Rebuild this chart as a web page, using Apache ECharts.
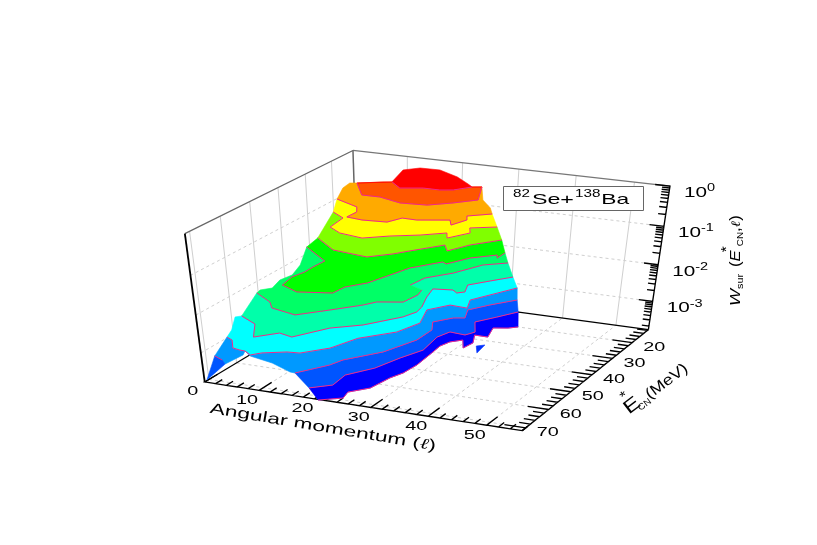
<!DOCTYPE html><html><head><meta charset="utf-8"><style>html,body{margin:0;background:#fff}#c{width:817px;height:545px}</style><script src="https://cdn.jsdelivr.net/npm/echarts@6/dist/echarts.min.js"></script></head><body><div id="c"></div>
<script>
// ---- values: each contour is a list of [angular momentum, E*] at one log10(W) level ----
const logWLevels=[-3.8,-3.5,-3.2,-2.9,-2.6,-2.3,-2,-1.7,-1.4,-1.1,-0.8,-0.5,-0.2];
const contour0=[[20.8,71.8],[24.0,69.1],[23.4,66.0],[25.8,62.5],[26.5,56.2],[27.4,52.8],[27.7,47.8],[27.3,40.6],[27.0,36.3],[27.6,33.4],[29.2,31.4],[31.0,35.6],[31.4,32.2],[29.9,27.8],[32.4,27.9],[31.2,22.5],[33.6,21.4],[34.9,20.0]];
const contour1=[[19.3,71.8],[22.1,68.8],[21.7,63.2],[24.5,57.7],[26.0,50.9],[27.7,45.2],[26.9,37.4],[27.7,33.7],[30.7,34.2],[31.6,31.9],[29.3,26.4],[31.6,22.0],[33.8,17.5]];
const contour2=[[16.5,70.9],[19.7,64.7],[20.5,61.3],[24.6,54.5],[26.9,46.0],[26.9,39.7],[25.2,35.4],[27.4,31.7],[29.2,30.8],[27.8,26.2],[30.1,21.7],[33.2,16.8]];
const contour2Left=[[0.8,68.5],[2.9,69.9],[4.3,71.6],[4.7,66.0],[4.0,63.9],[6.0,66.0],[10.9,67.8],[15.6,70.8]];
const contour3=[[0.8,63.7],[2.3,64.8],[4.4,68.6],[5.9,69.1],[6.9,69.2],[8.6,70.7],[9.8,68.9],[13.2,66.7],[15.3,66.3],[18.5,61.8],[20.3,55.0],[24.6,49.0],[26.0,42.7],[24.0,35.2],[26.4,30.8],[29.7,31.2],[28.3,26.5],[32.8,16.1]];
const contour4=[[0.6,57.6],[4.6,60.7],[7.6,67.2],[10.4,63.4],[13.1,64.5],[16.5,57.4],[20.6,53.5],[24.6,46.5],[25.5,42.9],[25.1,39.9],[23.5,34.1],[22.5,29.2],[25.8,28.3],[27.1,29.7],[28.1,28.5],[26.9,24.4],[29.4,20.4],[32.0,16.4]];
const contour5=[[-0.1,50.3],[4.2,54.1],[6.0,57.0],[11.1,58.9],[15.0,53.9],[18.6,49.0],[19.9,46.4],[23.8,44.6],[24.3,39.7],[23.7,36.7],[20.8,34.9],[21.3,29.9],[24.4,25.0],[27.0,18.1],[30.4,15.0]];
const contour6=[[-1.9,27.3],[4.7,34.0],[4.5,38.2],[4.6,41.6],[4.0,45.2],[4.7,50.2],[8.6,52.8],[14.1,50.8],[14.4,46.8],[16.7,43.0],[18.1,37.0],[19.3,31.7],[22.8,25.8],[23.8,26.7],[26.0,21.5],[29.4,17.7],[30.1,19.5],[30.1,15.9]];
const contour7=[[0.5,27.7],[6.1,33.5],[13.0,35.0],[16.1,31.4],[17.9,28.4],[21.7,22.4],[23.5,25.7],[25.5,20.5],[29.1,15.2]];
const contour8=[[-1.2,17.7],[2.0,20.6],[2.6,27.0],[5.7,29.8],[10.4,31.1],[14.0,27.9],[18.3,25.1],[21.8,21.9],[23.1,24.9],[25.3,20.2],[24.0,17.2],[27.9,14.6]];
const contour9=[[-1.0,16.4],[4.3,19.8],[5.7,22.9],[5.6,26.6],[8.7,27.3],[13.0,26.7],[14.2,23.2],[16.9,23.3],[21.9,20.9],[23.3,23.8],[24.4,19.6],[23.4,17.2],[26.7,14.1]];
const contour10=[[0.8,12.0],[5.0,19.2],[8.3,19.1],[13.0,21.3],[17.6,20.6],[20.9,17.4],[23.9,13.7],[21.1,5.2]];
const contour11=[[4.3,19.4],[7.9,16.9],[9.3,16.2],[12.1,19.4],[15.6,17.7],[18.6,17.7],[20.6,16.7],[22.6,13.5],[24.1,12.7]];
const contour12=[[12.6,23.7],[10.9,15.3],[12.9,12.8],[16.4,12.6],[20.9,15.8],[24.3,19.4],[25.7,21.0]];
const edgeLeft3=[[-3.2,53.0],[-0.3,59.9]];
const edgeLeft5=[[-1.1,31.8],[0.4,38.0],[-0.1,41.7],[0.9,46.6],[-0.4,48.5]];
const edgeLeft9=[[-3.8,5.2],[-3.4,8.9]];
const edgeRight9=[[24.9,10.5],[21.7,6.0]];
const tipBand1=[[5.5,80.2],[0.8,68.5],[2.9,69.9],[4.3,71.6]];
const islandBand0=[[32.6,33.6],[33.7,32.4],[34.2,37.2]];
const lTicks=[0,10,20,30,40,50];
const eTicks=[20,30,40,50,60,70];
const zTicks=[0,-1,-2,-3];
const bandColors=['#0000ff','#0055ff','#0099ff','#00ffff','#00ffaa','#00ff66','#00ff00','#80ff00','#ffff00','#ffaa00','#ff5500','#ff0000'];
const systemName=['82','Se+','138','Ba'];

// ---- box of the 3D view ----
const Lmax=56,Emin=11.5,Emax=71.5,Zmin=-3.8,Zmax=0;
const viewAnchors=[[0,71.5,-3.8,206,381],[56,71.5,-3.8,522,433],[56,11.5,-3.8,648,329],[0,11.5,-3.8,356,292],[0,71.5,0,185,234],[0,11.5,0,354,149],[56,11.5,0,668,186],[56,11.5,-1,664,227],[56,11.5,-2,659,266],[56,11.5,-3,654,302],[56,41.5,-3.8,590,373],[30,71.5,-3.8,369,408]];
function uvw(l,E,z){return [l/Lmax,(Emax-E)/(Emax-Emin),(z-Zmin)/(Zmax-Zmin)];}
function solve(A,b){const n=A.length;for(let i=0;i<n;i++){let p=i;for(let r=i+1;r<n;r++)if(Math.abs(A[r][i])>Math.abs(A[p][i]))p=r;let t=A[i];A[i]=A[p];A[p]=t;t=b[i];b[i]=b[p];b[p]=t;for(let r=i+1;r<n;r++){const f=A[r][i]/A[i][i];for(let c=i;c<n;c++)A[r][c]-=f*A[i][c];b[r]-=f*b[i];}}const x=new Array(n);for(let i=n-1;i>=0;i--){let s=b[i];for(let c=i+1;c<n;c++)s-=A[i][c]*x[c];x[i]=s/A[i][i];}return x;}
const M=(function(){const N=[],B=[];for(let i=0;i<11;i++){N.push(new Array(11).fill(0));B.push(0);}
function add(r,v){for(let i=0;i<11;i++){for(let j=0;j<11;j++)N[i][j]+=r[i]*r[j];B[i]+=r[i]*v;}}
viewAnchors.forEach(f=>{const [u,v,w]=uvw(f[0],f[1],f[2]),x=f[3]/800,y=f[4]/500;
add([u,v,w,1,0,0,0,0,-x*u,-x*v,-x*w],x);add([0,0,0,0,u,v,w,1,-y*u,-y*v,-y*w],y);});return solve(N,B);})();
function view(l,E,z){const [u,v,w]=uvw(l,E,z),d=M[8]*u+M[9]*v+M[10]*w+1;return [800*(M[0]*u+M[1]*v+M[2]*w+M[3])/d,500*(M[4]*u+M[5]*v+M[6]*w+M[7])/d];}

const contours=[contour0,contour1,contour2,contour3,contour4,contour5,contour6,contour7,contour8,contour9,contour10,contour11,contour12];
const edgesLeft={3:edgeLeft3,5:edgeLeft5,9:edgeLeft9},edgesRight={9:edgeRight9};
const noLineInto={5:[10],11:[1,2,8],12:[0,1,2,3,4,5,6]};

const SANS="'Liberation Sans',Arial,sans-serif";
const mctx=document.createElement('canvas').getContext('2d');
function textEl(t,x,y,size,o){o=o||{};return {type:'text',x:x,y:y,rotation:o.rot||0,scaleX:o.sx||1,scaleY:1,silent:true,
 style:{text:t,fontSize:size,fontFamily:o.family||SANS,fontStyle:o.style||'normal',fill:'#000',align:o.align||'center',verticalAlign:'middle'}};}
function runEl(x,y,deg,parts){const r=deg*Math.PI/180,ux=Math.cos(r),uy=-Math.sin(r),vx=Math.sin(r),vy=Math.cos(r);let adv=0;const out=[];
 parts.forEach(p=>{const fam=p.family||SANS,sx=p.sx||1.4;mctx.font=(p.style||'normal')+' '+p.size+'px '+fam;
  const d=(p.dy||0)-0.36*p.size,a=adv+(p.gap||0);
  out.push(textEl(p.t,x+ux*a+vx*d,y+uy*a+vy*d,p.size,{rot:r,sx:sx,align:'left',family:fam,style:p.style}));
  adv=a+mctx.measureText(p.t).width*sx;});return out;}
function polyEl(pts,color){return {type:'polygon',shape:{points:pts},silent:true,style:{fill:color,stroke:color,lineWidth:0.6}};}
function lineEl(pts,color,w,dash){return {type:'polyline',shape:{points:pts},silent:true,style:{fill:null,stroke:color,lineWidth:w,lineDash:dash||null}};}

function toPx(api,list,k){return list.map(p=>api.coord(view(p[0],p[1],logWLevels[k])));}
function segPx(api,a,b){return [api.coord(view(a[0],a[1],a[2])),api.coord(view(b[0],b[1],b[2]))];}

function renderFrame(params,api){const ch=[];const GR='#cfcfcf',DASH=[3,3];
 const seg=(a,b,c,w,d)=>ch.push(lineEl(segPx(api,a,b),c,w,d));
 // walls
 [20,30,40,50,60,70].forEach(E=>seg([0,E,Zmin],[0,E,Zmax],GR,1));
 [10,20,30,40,50].forEach(l=>seg([l,Emin,Zmin],[l,Emin,Zmax],GR,1));
 [-1,-2,-3].forEach(z=>{seg([0,Emax,z],[0,Emin,z],GR,1,DASH);seg([0,Emin,z],[Lmax,Emin,z],GR,1,DASH);});
 // floor
 lTicks.slice(1).forEach(l=>seg([l,Emax,Zmin],[l,Emin,Zmin],GR,1,DASH));
 eTicks.forEach(E=>seg([0,E,Zmin],[Lmax,E,Zmin],GR,1,DASH));
 // box edges
 seg([0,Emax,Zmax],[0,Emin,Zmax],'#666',1.2);seg([0,Emin,Zmax],[Lmax,Emin,Zmax],'#777',1.2);seg([0,Emin,Zmin],[0,Emin,Zmax],'#666',1.5);
 seg([0,Emax,Zmin],[0,Emin,Zmin],'#000',1.2);seg([0,Emin,Zmin],[Lmax,Emin,Zmin],'#000',1.2);
 return {type:'group',children:ch};}

function renderBand(params,api){const k=params.dataIndex;
 const lowList=(k===2?contour2Left.concat(contour2):contours[k]);
 const low=toPx(api,lowList,k),up=toPx(api,contours[k+1],k+1).reverse();
 const eR=edgesRight[k]?toPx(api,edgesRight[k],k):[],eL=edgesLeft[k]?toPx(api,edgesLeft[k],k):[];
 return polyEl(low.concat(eR,up,eL),bandColors[k]);}

function renderPatches(params,api){return {type:'group',children:[
 polyEl(toPx(api,tipBand1,2),bandColors[1]),
 polyEl(toPx(api,islandBand0,0),'#0030ff')]};}

function renderContours(params,api){const ch=[],PINK='#f0288c';
 contours.forEach((c,k)=>{const px=toPx(api,c,k),skip=noLineInto[k]||[];let cur=[px[0]];
  for(let i=1;i<px.length;i++){if(skip.indexOf(i)>=0){if(cur.length>1)ch.push(lineEl(cur,PINK,1));cur=[px[i]];}else cur.push(px[i]);}
  if(cur.length>1)ch.push(lineEl(cur,PINK,1));});
 ch.push(lineEl(toPx(api,contour2Left.slice(0,2),2),PINK,1));
 return {type:'group',children:ch};}

// axis with its ticks, as one zig-zag stroke
function comb(api,pairs){const pts=[];pairs.forEach(p=>{const a=api.coord(view(p[0][0],p[0][1],p[0][2])),b=api.coord(view(p[1][0],p[1][1],p[1][2]));pts.push(a,b,a);});return lineEl(pts,'#000',1.35);}

function renderAxes(params,api){const ch=[];const seg=(a,b,w)=>ch.push(lineEl(segPx(api,a,b),'#000',w));
 seg([0,Emax,Zmin],[0,Emax,Zmax],1.8);
 const lt=[],et=[],zt=[];
 for(let l=0;l<=Lmax;l+=2)lt.push([[l,Emax,Zmin],[l,Emax-(l%10===0?4.6:2.4),Zmin]]);
 for(let E=70;E>=12;E-=2)et.push([[Lmax,E,Zmin],[Lmax-(E%10===0?3.6:1.9),E,Zmin]]);
 et.unshift([[Lmax,Emax,Zmin],[Lmax,Emax,Zmin]]);et.push([[Lmax,Emin,Zmin],[Lmax,Emin,Zmin]]);
 for(let d=-4;d<=0;d++){for(let m=1;m<10;m++){const z=d+Math.log10(m);if(z<Zmin||z>Zmax)continue;zt.push([[Lmax,Emin,z],[Lmax-(m===1?2.5:1.3),Emin,z]]);}}
 zt.unshift([[Lmax,Emin,Zmin],[Lmax,Emin,Zmin]]);
 lt.push([[Lmax,Emax,Zmin],[Lmax,Emax,Zmin]]);
 ch.push(comb(api,lt),comb(api,et),comb(api,zt));
 lTicks.forEach(l=>{const p=api.coord(view(l,Emax,Zmin));ch.push(textEl(String(l),p[0]-12,p[1]+10,12,{sx:1.65}));});
 eTicks.forEach(E=>{const p=api.coord(view(Lmax,E,Zmin));ch.push(textEl(String(E),p[0]+22,p[1]+5,12,{sx:1.65}));});
 zTicks.forEach(z=>{const p=api.coord(view(Lmax,Emin,z));
  ch.push(...runEl(p[0]+14,p[1]+12,0,[{t:'10',size:14,sx:1.48},{t:String(z),size:10,sx:1.45,dy:-6}]));});
 return {type:'group',children:ch};}

function renderTitles(params,api){const ch=[];const at=(x,y)=>api.coord([x,y]);
 // legend box
 const a=at(503,186),b=at(643,210);
 ch.push({type:'rect',shape:{x:a[0]+.5,y:a[1]+.5,width:b[0]-a[0],height:b[1]-a[1]},silent:true,style:{fill:'#fff',stroke:'#666',lineWidth:1}});
 const o=at(513,205);
 ch.push(...runEl(o[0],o[1],0,[{t:systemName[0],size:10.5,sx:1.45,dy:-7},{t:systemName[1],size:15,sx:1.55,gap:2},{t:systemName[2],size:10.5,sx:1.45,dy:-7,gap:1},{t:systemName[3],size:15,sx:1.52,gap:1}]));
 const t=at(209,414);
 ch.push(...runEl(t[0],t[1],-9.5,[{t:'Angular momentum (',size:15,sx:1.52},{t:'ℓ',size:15,sx:1.4,style:'italic',family:"'DejaVu Serif',serif"},{t:')',size:15,sx:1.5}]));
 const e=at(630,416);
 ch.push(...runEl(e[0],e[1],37,[{t:'E',size:19,sx:1.25},{t:'*',size:14,sx:1.2,dy:-14,gap:-12},{t:'CN',size:9,sx:1.1,dy:3,gap:1},{t:'(MeV)',size:15,sx:1.2}]));
 const w=at(741,306);
 ch.push(...runEl(w[0],w[1],90,[{t:'W',size:15,sx:1.2,style:'italic'},{t:'sur',size:9,sx:1.2,dy:3},{t:'(',size:14,sx:1.2,gap:7},{t:'E',size:14,sx:1.2,style:'italic'},{t:'*',size:14,sx:1.1,dy:-9,gap:-2},{t:'CN',size:9,sx:1.1,dy:3},{t:',',size:14,sx:1.2},{t:'ℓ',size:13,sx:1.2,style:'italic',family:"'DejaVu Serif',serif"},{t:')',size:14,sx:1.2}]));
 return {type:'group',children:ch};}

function cs(name,render,data,z){return {name:name,type:'custom',coordinateSystem:'cartesian2d',renderItem:render,data:data,z:z,silent:true,clip:false,animation:false};}
const chart=echarts.init(document.getElementById('c'),null,{renderer:'canvas'});
chart.setOption({animation:false,backgroundColor:'#fff',tooltip:{show:false},
 grid:{left:0,right:0,top:0,bottom:0},
 xAxis:{type:'value',min:0,max:817,show:false},
 yAxis:{type:'value',min:0,max:545,inverse:true,show:false},
 series:[cs('frame',renderFrame,[[0,0]],1),
  cs('axes',renderAxes,[[0,0]],2),
  cs('bands',renderBand,bandColors.map((c,i)=>[i,0]),3),
  cs('patches',renderPatches,[[0,0]],4),
  cs('contours',renderContours,[[0,0]],5),
  cs('titles',renderTitles,[[0,0]],6)]});
</script></body></html>
